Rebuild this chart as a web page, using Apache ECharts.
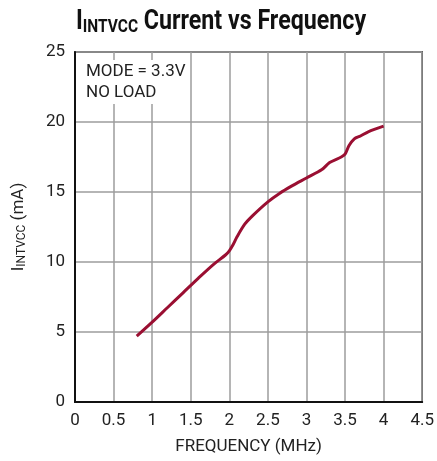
<!DOCTYPE html>
<html><head><meta charset="utf-8">
<script src="https://cdn.jsdelivr.net/npm/echarts@6/dist/echarts.min.js"></script>
<style>html,body{margin:0;padding:0;background:#fff}#c{width:437px;height:461px}</style>
</head><body><div id="c"></div>
<script>
var freq = [0.80, 1.00, 1.20, 1.40, 1.60, 1.80, 1.95, 2.00, 2.05, 2.10, 2.20, 2.30, 2.50, 2.65, 2.80, 3.00, 3.20, 3.30, 3.45, 3.50, 3.55, 3.62, 3.70, 3.80, 4.00];
var current = [4.7, 5.7, 6.75, 7.8, 8.85, 9.85, 10.5, 10.8, 11.25, 11.8, 12.7, 13.3, 14.3, 14.9, 15.4, 16.0, 16.6, 17.1, 17.5, 17.7, 18.3, 18.8, 19.0, 19.3, 19.7];
var xTicks = [0, 0.5, 1, 1.5, 2, 2.5, 3, 3.5, 4, 4.5];
var yTicks = [0, 5, 10, 15, 20, 25];
var FONT = "'Liberation Sans Narrow', 'Arial Narrow', Roboto, sans-serif";
var chart = echarts.init(document.getElementById('c'));
chart.setOption({
  animation: false,
  grid: {left: 75, right: 11, top: 52, bottom: 59, show: true, borderColor: '#111', borderWidth: 1.5},
  xAxis: {
    type: 'value', min: xTicks[0], max: xTicks[xTicks.length - 1], interval: 0.5,
    name: 'FREQUENCY (MHz)', nameLocation: 'middle', nameGap: 36,
    nameTextStyle: {fontFamily: FONT, fontSize: 17, color: '#222'},
    axisLine: {show: true, lineStyle: {color: '#111', width: 2}},
    axisTick: {show: false},
    axisLabel: {fontFamily: FONT, fontSize: 17, color: '#222', margin: 10},
    splitLine: {show: true, lineStyle: {color: '#9c9c9c', width: 1.5}}
  },
  yAxis: {
    type: 'value', min: yTicks[0], max: yTicks[yTicks.length - 1], interval: 5,
    name: '{a|I}{b|INTVCC}{a| (mA)}', nameLocation: 'middle', nameGap: 47, nameRotate: 90,
    nameTextStyle: {
      rich: {
        a: {fontFamily: FONT, fontSize: 17, color: '#222'},
        b: {fontFamily: FONT, fontSize: 12, color: '#222', verticalAlign: 'bottom', padding: [6, 0, 0, 0]}
      }
    },
    axisLine: {show: true, lineStyle: {color: '#111', width: 2}},
    axisTick: {show: false},
    axisLabel: {fontFamily: FONT, fontSize: 17, color: '#222', margin: 10},
    splitLine: {show: true, lineStyle: {color: '#9c9c9c', width: 1.5}}
  },
  graphic: [{
    type: 'text', x: 76, y: 8, scaleX: 0.86, z: 10,
    style: {
      text: '{a|I}{b|INTVCC}{a| Current vs Frequency}',
      rich: {
        a: {fontFamily: FONT, fontWeight: 'bold', fontSize: 27, fill: '#111'},
        b: {fontFamily: FONT, fontWeight: 'bold', fontSize: 18, fill: '#111', verticalAlign: 'bottom', padding: [10, 0, 0, 0]}
      }
    }
  }, {
    type: 'text', left: 84, top: 60, z: 10,
    style: {text: 'MODE = 3.3V\nNO LOAD', fontFamily: FONT, fontSize: 17, fill: '#222', lineHeight: 21,
            backgroundColor: '#fff', padding: [1, 2, 1, 2]}
  }],
  series: [{
    type: 'line', data: freq.map(function (f, i) { return [f, current[i]]; }),
    smooth: 0.3, showSymbol: false, lineStyle: {color: '#9a0f32', width: 3}
  }]
});
</script></body></html>
